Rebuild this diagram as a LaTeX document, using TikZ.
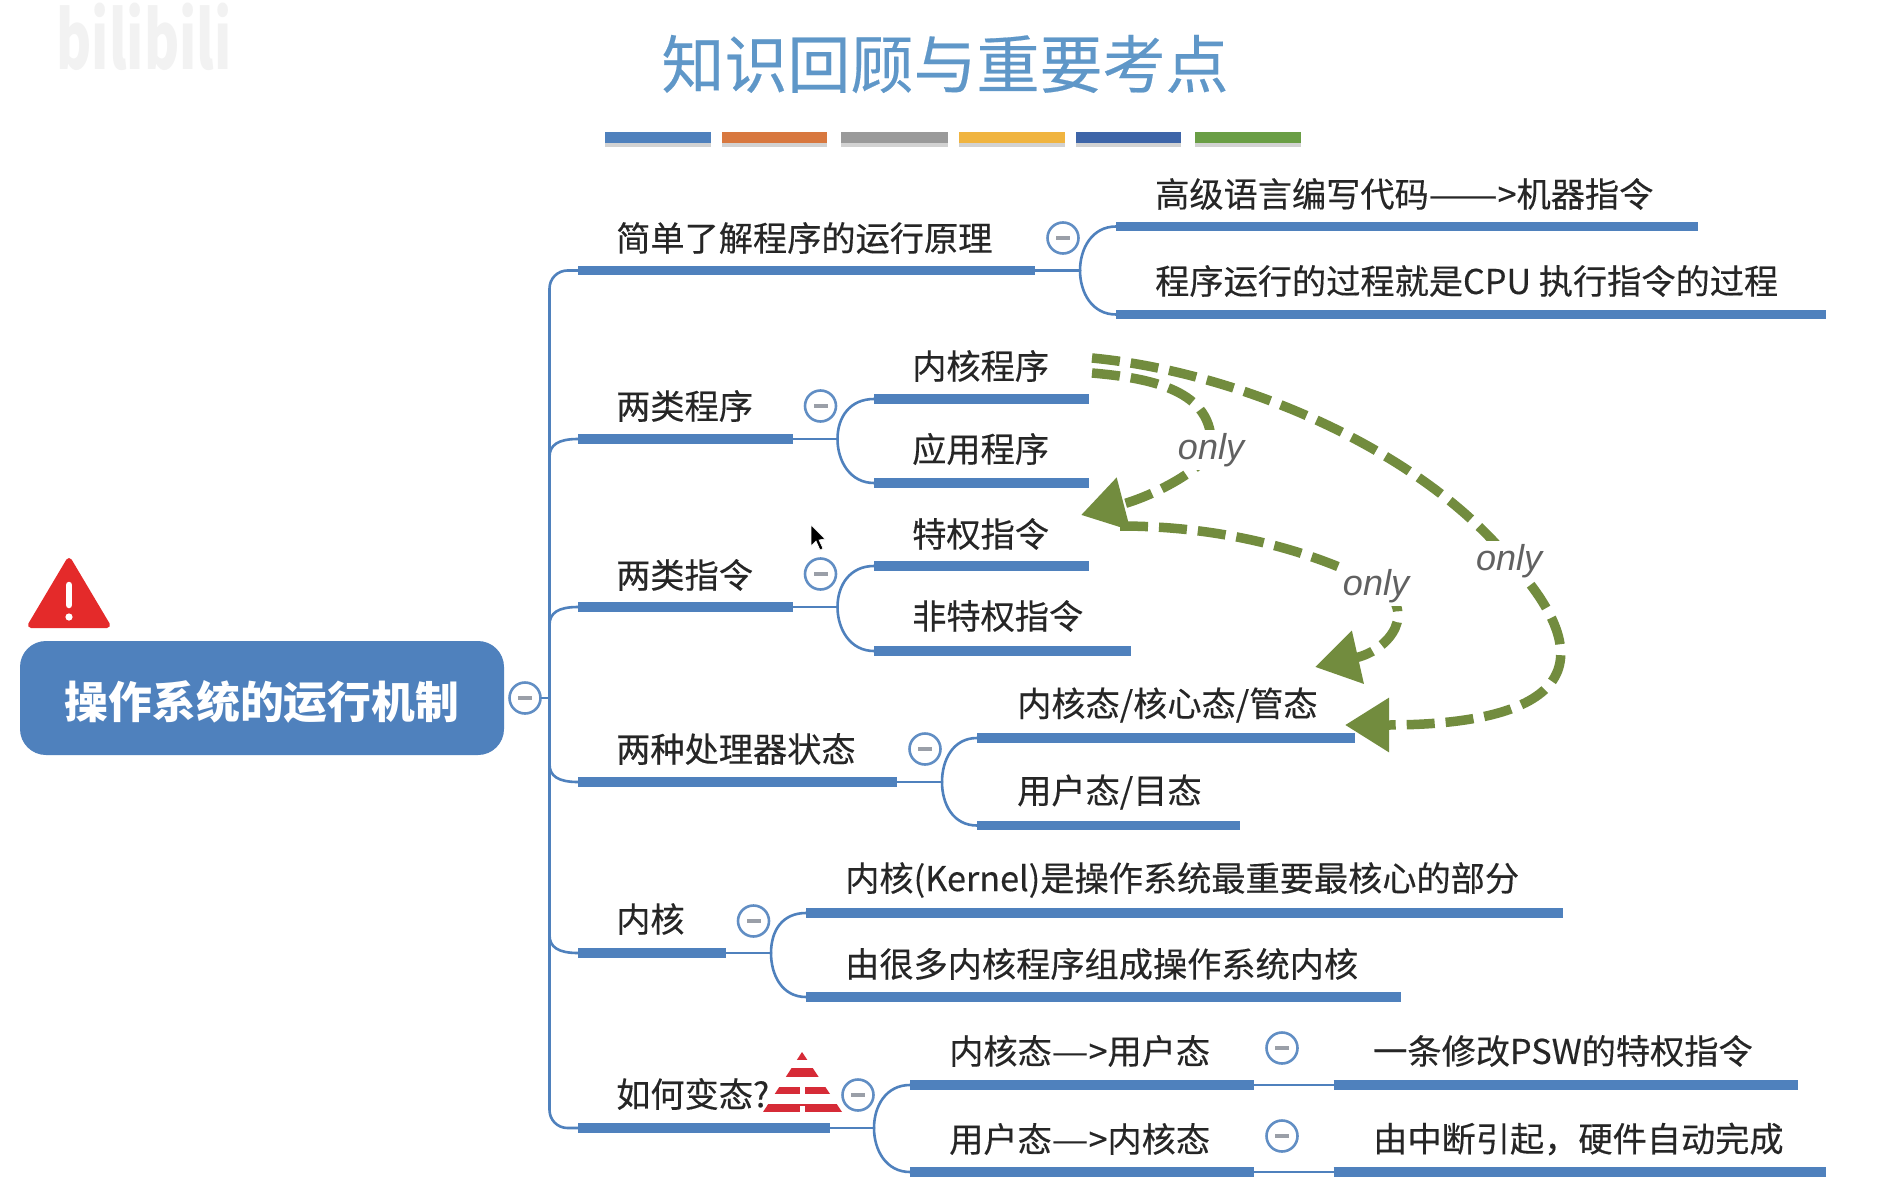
\documentclass[tikz,border=0pt]{standalone}
\usepackage{fontspec}
\setmainfont{Noto Sans CJK SC}
\newfontfamily\labfont{Noto Sans CJK SC}[FakeBold=0.3]
\newfontfamily\latinit{Liberation Sans}
\usetikzlibrary{arrows.meta,calc,shadows,positioning}
\definecolor{mapblue}{HTML}{4F81BD}
\definecolor{titleblue}{HTML}{5F97C8}
\definecolor{onlygreen}{HTML}{728C3E}
\definecolor{minusgray}{HTML}{9A9FA8}
\definecolor{alertred}{HTML}{E42A2A}
\definecolor{stripered}{HTML}{D62B37}
\definecolor{swatchorange}{HTML}{D8783F}
\definecolor{swatchgray}{HTML}{9A9A9A}
\definecolor{swatchyellow}{HTML}{F0B440}
\definecolor{swatchnavy}{HTML}{3E65A8}
\definecolor{swatchgreen}{HTML}{6A9E45}
\tikzset{
  x=1pt,y=-1pt,
  lab/.style={anchor=west,inner sep=0pt,yshift=1pt,text=black!85,font=\labfont\fontsize{34.2}{40}\selectfont},
  barline/.style={draw=mapblue,line width=9.5pt},
  thinline/.style={draw=mapblue,line width=2.6pt,line cap=round},
  collapse/.style={circle,draw=mapblue!90,line width=2.6pt,fill=white,minimum size=31pt,inner sep=0pt,
    path picture={\fill[minusgray] ($(path picture bounding box.center)+(-7,-1.6)$) rectangle ($(path picture bounding box.center)+(7,1.6)$);}},
  swatch/.style={line width=0pt,drop shadow={shadow xshift=0pt,shadow yshift=-4pt,opacity=.35}},
  onlyarrow/.style={draw=onlygreen,line width=9.5pt,dash pattern=on 28pt off 11pt,
    -{Triangle[length=44pt,width=52pt,fill=onlygreen]}},
  onlylabel/.style={inner sep=3pt,yshift=-2pt,fill=white,text=black!62,font=\latinit\itshape\fontsize{36}{40}\selectfont},
}
\newcommand{\wdash}[2]{\scalebox{#1}[1]{#2}}
% bar from (a) to (b) with a text label above it
\newcommand{\Leaf}[6]{%  name, x0, x1, ybar, ytext+xtext, text
  \coordinate (#1s) at (#2,#4);
  \coordinate (#1e) at (#3,#4);
  \draw[barline] (#1s) -- (#1e);
  \node[lab] (#1t) at (#5) {#6};
}
% bracket from (j) to the starts of two bars
\newcommand{\Fork}[3]{%
  \draw[thinline] (#2s) .. controls ($(#2s)+(-24,0)$) and ($(#1)+(0,-22)$) .. (#1);
  \draw[thinline] (#3s) .. controls ($(#3s)+(-24,0)$) and ($(#1)+(0,22)$) .. (#1);
}
\begin{document}
\begin{tikzpicture}
\useasboundingbox (0,0) rectangle (1894,1196);
\fill[white] (0,0) rectangle (1894,1196);

% faded watermark
\node[anchor=base,inner sep=0pt,text=black!5,font=\bfseries\fontsize{80}{82}\selectfont] (wm) at (144,70) {\scalebox{.67}[1]{bilibili}};

% title
\node[inner sep=0pt,text=titleblue,font=\labfont\fontsize{63}{70}\selectfont] (title) at (945,64) {知识回顾与重要考点};

% colour swatches
\fill[swatch,fill=mapblue]        (605,132) rectangle (711,143);
\fill[swatch,fill=swatchorange]   (722,132) rectangle (827,143);
\fill[swatch,fill=swatchgray]     (841,132) rectangle (948,143);
\fill[swatch,fill=swatchyellow]   (959,132) rectangle (1065,143);
\fill[swatch,fill=swatchnavy]     (1076,132) rectangle (1181,143);
\fill[swatch,fill=swatchgreen]    (1195,132) rectangle (1301,143);

% trunk
\coordinate (trunkT) at (549.5,270.5);
\coordinate (trunkB) at (549.5,1128);
\draw[thinline,rounded corners=18pt] (578,270.5) -- (trunkT) -- (trunkB) -- (578,1128);

% first-level branches
\Leaf{a}{578}{1035}{270.5}{616,239}{简单了解程序的运行原理}
\Leaf{b}{578}{793}{439}{616,407}{两类程序}
\Leaf{c}{578}{793}{607}{616,576}{两类指令}
\Leaf{d}{578}{897}{782}{616,750}{两种处理器状态}
\Leaf{e}{578}{726}{953}{616,920}{内核}
\Leaf{f}{578}{830}{1128}{616,1095}{如何变态?}

% curved joints to the trunk
\coordinate (tb) at (549.5,457);
\coordinate (tc) at (549.5,625);
\coordinate (td) at (549.5,764);
\coordinate (te) at (549.5,935);
\draw[thinline] (tb) .. controls (549.5,445) and (558,439) .. (bs);
\draw[thinline] (tc) .. controls (549.5,613) and (558,607) .. (cs);
\draw[thinline] (td) .. controls (549.5,776) and (558,782) .. (ds);
\draw[thinline] (te) .. controls (549.5,947) and (558,953) .. (es);

% second level
\Leaf{aa}{1116}{1698}{226.5}{1155,195}{高级语言编写代码\wdash{1.2}{——}>机器指令}
\Leaf{ab}{1116}{1826}{314.5}{1155,282}{程序运行的过程就是CPU 执行指令的过程}
\Leaf{ba}{874}{1089}{399}{912,367}{内核程序}
\Leaf{bb}{874}{1089}{483}{912,450}{应用程序}
\Leaf{ca}{874}{1089}{566}{912,535}{特权指令}
\Leaf{cb}{874}{1131}{651}{912,617}{非特权指令}
\Leaf{da}{977}{1355}{738}{1017,706}{内核态/核心态/管态}
\Leaf{db}{977}{1240}{825.5}{1017,793}{用户态/目态}
\Leaf{ea}{806}{1563}{913}{845,881}{内核(Kernel)是操作系统最重要最核心的部分}
\Leaf{eb}{806}{1401}{997}{845,965}{由很多内核程序组成操作系统内核}
\Leaf{fa}{910}{1254}{1085}{949,1052}{内核态\wdash{1.2}{—}>用户态}
\Leaf{fb}{910}{1254}{1172}{949,1140}{用户态\wdash{1.2}{—}>内核态}
\Leaf{ga}{1333.5}{1798}{1085}{1373,1052}{一条修改PSW的特权指令}
\Leaf{gb}{1333.5}{1826}{1172}{1373,1140}{由中断引起，硬件自动完成}

% junctions and brackets
\coordinate (ja) at (1080,270.5);
\coordinate (jb) at (837.5,439);
\coordinate (jc) at (837.5,607);
\coordinate (jd) at (942,782);
\coordinate (je) at (771,953);
\coordinate (jf) at (874,1128);
\draw[thinline] (ae) -- (ja);
\draw[thinline] (be) -- (jb);
\draw[thinline] (ce) -- (jc);
\draw[thinline] (de) -- (jd);
\draw[thinline] (ee) -- (je);
\draw[thinline] (fe) -- (jf);
\Fork{ja}{aa}{ab}
\Fork{jb}{ba}{bb}
\Fork{jc}{ca}{cb}
\Fork{jd}{da}{db}
\Fork{je}{ea}{eb}
\Fork{jf}{fa}{fb}
\draw[thinline] (fae) -- (gas);
\draw[thinline] (fbe) -- (gbs);

% root
\node[rounded corners=26pt,fill=mapblue,minimum width=484pt,minimum height=114pt,inner sep=0pt,
      text=white,font=\bfseries\fontsize{43.8}{48}\selectfont] (root) at (262,698) {\raisebox{0pt}[50pt][9.5pt]{操作系统的运行机制}};

% collapse buttons
\node[collapse] (croot) at (525,698) {};
\draw[thinline] (croot.east) -- (549.5,698);
\node[collapse] at (1063,238) {};
\node[collapse] at (820.5,406) {};
\node[collapse] at (820.5,574) {};
\node[collapse] at (925,749) {};
\node[collapse] at (753.5,921) {};
\node[collapse] at (858,1095) {};
\node[collapse] at (1282,1048) {};
\node[collapse] at (1282,1136) {};

% warning icon
\fill[alertred,draw=alertred,line width=6pt,line join=round] (69,561) -- (107,625) -- (31,625) -- cycle;
\draw[white,line width=6.5pt,line cap=round] (69,585) -- (69,605);
\fill[white] (69,617) circle (3.6);

% striped pyramid icon
\begin{scope}
  \clip (802,1052) -- (842,1112) -- (763,1112) -- cycle;
  \fill[stripered] (750,1052) rectangle (850,1060);
  \fill[stripered] (750,1068) rectangle (850,1077);
  \fill[stripered] (750,1087) rectangle (850,1094);
  \fill[stripered] (750,1104) rectangle (850,1112);
  \fill[white] (799.5,1087) rectangle (805,1094);
  \fill[white] (800,1106) rectangle (804.5,1112);
\end{scope}

% mouse cursor
\fill[black,draw=white,line width=.6pt] (811,525) -- (811,546) -- (816,541) -- (820,550) -- (823,548.5) -- (819,540) -- (825,539) -- cycle;

% dashed "only" arrows
\coordinate (A0) at (1092,358);
\coordinate (A1) at (1509,559);
\coordinate (A2) at (1345,725);
\coordinate (B0) at (1092,373);
\coordinate (B1) at (1211,448);
\coordinate (B2) at (1081,515);
\coordinate (C0) at (1120,526);
\coordinate (C1) at (1376,584);
\coordinate (C2) at (1315,667);
\draw[onlyarrow] (B0) .. controls (1150,378) and (1215,390) .. (B1)
   .. controls (1205,470) and (1150,497) .. (B2);
\draw[onlyarrow] (C0) .. controls (1210,526) and (1300,545) .. (C1)
   .. controls (1420,610) and (1390,650) .. (C2);
\draw[onlyarrow] (A0) .. controls (1240,372) and (1420,450) .. (A1)
   .. controls (1620,680) and (1540,725) .. (A2);
\node[onlylabel] (only1) at (B1) {only};
\node[onlylabel] (only2) at (C1) {only};
\node[onlylabel] (only3) at (A1) {only};
\end{tikzpicture}
\end{document}
